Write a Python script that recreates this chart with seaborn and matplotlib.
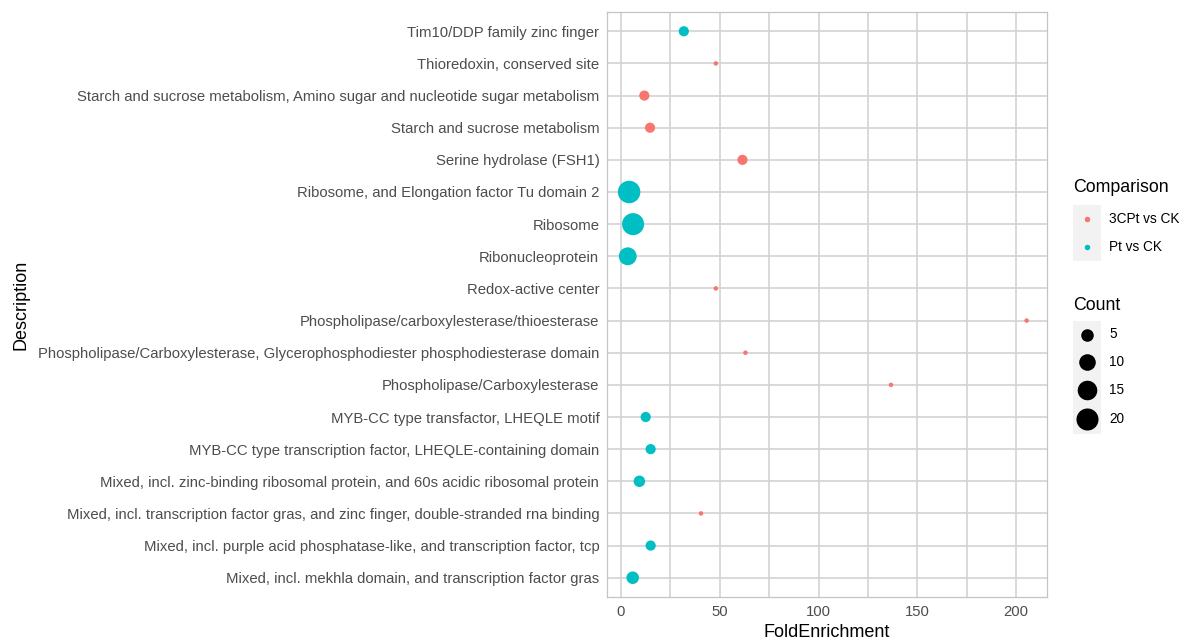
import matplotlib
matplotlib.use("Agg")
import matplotlib.pyplot as plt
import seaborn as sns
import pandas as pd
import numpy as np
from matplotlib.patches import Rectangle
from matplotlib.lines import Line2D
from matplotlib.ticker import MultipleLocator

# Enriched terms, listed top to bottom as drawn
descriptions = [
    "Tim10/DDP family zinc finger",
    "Thioredoxin, conserved site",
    "Starch and sucrose metabolism, Amino sugar and nucleotide sugar metabolism",
    "Starch and sucrose metabolism",
    "Serine hydrolase (FSH1)",
    "Ribosome, and Elongation factor Tu domain 2",
    "Ribosome",
    "Ribonucleoprotein",
    "Redox-active center",
    "Phospholipase/carboxylesterase/thioesterase",
    "Phospholipase/Carboxylesterase, Glycerophosphodiester phosphodiesterase domain",
    "Phospholipase/Carboxylesterase",
    "MYB-CC type transfactor, LHEQLE motif",
    "MYB-CC type transcription factor, LHEQLE-containing domain",
    "Mixed, incl. zinc-binding ribosomal protein, and 60s acidic ribosomal protein",
    "Mixed, incl. transcription factor gras, and zinc finger, double-stranded rna binding",
    "Mixed, incl. purple acid phosphatase-like, and transcription factor, tcp",
    "Mixed, incl. mekhla domain, and transcription factor gras",
]
comparison = [
    "Pt vs CK", "3CPt vs CK", "3CPt vs CK", "3CPt vs CK", "3CPt vs CK",
    "Pt vs CK", "Pt vs CK", "Pt vs CK", "3CPt vs CK", "3CPt vs CK",
    "3CPt vs CK", "3CPt vs CK", "Pt vs CK", "Pt vs CK", "Pt vs CK",
    "3CPt vs CK", "Pt vs CK", "Pt vs CK",
]
fold_enrichment = [31.8, 48.0, 11.8, 14.7, 61.5, 4.1, 6.1, 3.4, 48.0,
                   205.4, 63.0, 136.7, 12.5, 15.0, 9.3, 40.5, 15.0, 5.9]
counts = [3, 1, 3, 3, 3, 21, 20, 12, 1, 1, 1, 1, 3, 3, 4, 1, 3, 5]

groups = ["3CPt vs CK", "Pt vs CK"]
group_colors = ["#F8766D", "#00BFC4"]
count_breaks = [5, 10, 15, 20]
x_breaks = [0, 50, 100, 150, 200]

df = pd.DataFrame({
    "Description": descriptions,
    "Comparison": comparison,
    "FoldEnrichment": fold_enrichment,
    "Count": counts,
})

sns.set_style("white")
plt.rcParams["font.family"] = ["Liberation Sans", "DejaVu Sans"]

W, H = 1186, 641
fig = plt.figure(figsize=(W / 100, H / 100), dpi=100)
ax = fig.add_axes([607 / W, 1 - 597 / H, 440 / W, 585 / H])

# area-style size scale: dot diameter grows with sqrt of the rescaled count
c_lo, c_hi = min(counts), max(counts)


def dot_diameter_pt(c):
    frac = np.sqrt(max(c - c_lo, 0) / (c_hi - c_lo))
    return (4.5 + 18.0 * frac) * 0.72


size_lookup = {c: dot_diameter_pt(c) ** 2 for c in sorted(set(counts))}

sns.scatterplot(
    data=df, x="FoldEnrichment", y="Description",
    hue="Comparison", hue_order=groups, palette=group_colors,
    size="Count", sizes=size_lookup,
    linewidth=0, alpha=1, legend=False, ax=ax, zorder=3,
)

n = len(descriptions)
ax.set_ylim(n - 1 + 0.6, -0.6)
ax.set_xlim(-7.1, 215.7)
ax.set_xticks(x_breaks)
ax.xaxis.set_minor_locator(MultipleLocator(25))

grid_col = "#D3D3D3"
ax.grid(True, which="major", color=grid_col, linewidth=1.2, zorder=0)
ax.grid(True, which="minor", axis="x", color=grid_col, linewidth=1.2, zorder=0)
ax.set_axisbelow(True)
for sp in ax.spines.values():
    sp.set_color("#C4C4C4")
    sp.set_linewidth(0.9)

ax.tick_params(axis="both", which="major", length=3.5, width=0.8,
               color="#333333", labelcolor="#4D4D4D", pad=2)
ax.tick_params(axis="y", labelsize=10.7)
ax.tick_params(axis="x", labelsize=10.7)
ax.tick_params(axis="x", which="minor", length=0)
ax.set_xlabel("FoldEnrichment", fontsize=13, color="black", labelpad=4)
ax.set_ylabel("Description", fontsize=13, color="black", labelpad=6)


# ---- legends: grey key tiles with a centred dot, titles left aligned ----
def fx(px):
    return px / W


def fy(py):
    return 1 - py / H


def legend_block(title, title_y, labels, colors, diam_pt, row_edges,
                 key_x=1073, key_w=28, label_size=9.8):
    fig.text(fx(key_x), fy(title_y), title, fontsize=12.8, color="black",
             ha="left", va="center")
    top, bottom = row_edges[0], row_edges[-1]
    fig.add_artist(Rectangle((fx(key_x), fy(bottom)), key_w / W, (bottom - top) / H,
                             transform=fig.transFigure, facecolor="#F2F2F2",
                             edgecolor="none"))
    for i, lab in enumerate(labels):
        cy = (row_edges[i] + row_edges[i + 1]) / 2
        fig.add_artist(Line2D([fx(key_x + key_w / 2)], [fy(cy)], marker="o",
                              markersize=diam_pt[i], color=colors[i],
                              markeredgewidth=0, linestyle="",
                              transform=fig.transFigure))
        fig.text(fx(key_x + key_w + 8), fy(cy), lab, fontsize=label_size,
                 color="black", ha="left", va="center")


legend_block("Comparison", 188, groups, group_colors,
             [5.5 * 0.72] * len(groups), [205, 233, 261])
legend_block("Count", 305, [str(c) for c in count_breaks],
             ["black"] * len(count_breaks),
             [dot_diameter_pt(c) for c in count_breaks],
             [321, 348, 375, 404, 434])

fig.savefig("out.png", dpi=100)
